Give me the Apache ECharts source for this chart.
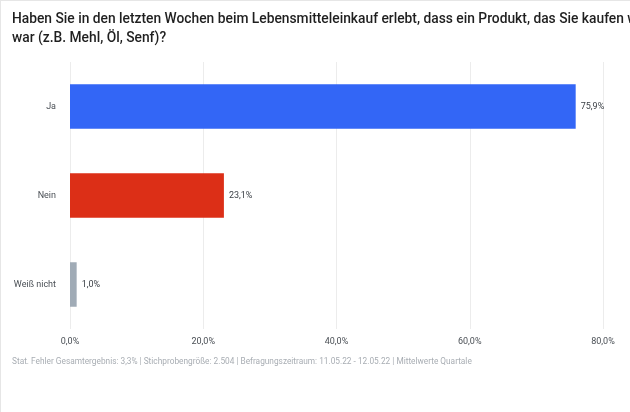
<!DOCTYPE html>
<html><head><meta charset="utf-8">
<script src="https://cdn.jsdelivr.net/npm/echarts@6/dist/echarts.min.js"></script>
<style>html,body{margin:0;padding:0;background:#fff}#c{width:630px;height:412px;border-left:1px solid #e6e6e6;border-top:1px solid #e6e6e6;box-sizing:border-box}</style>
</head><body><div id="c"></div>
<script>
const categories = ['Ja', 'Nein', 'Weiß nicht'];
const values = [75.9, 23.1, 1.0];
const colors = ['#3366f6', '#dc2f17', '#a0abb6'];
const xTicks = [0, 20, 40, 60, 80];
const titleText = 'Haben Sie in den letzten Wochen beim Lebensmitteleinkauf erlebt, dass ein Produkt, das Sie kaufen wollten, nicht verfügbar\nwar (z.B. Mehl, Öl, Senf)?';
const footText = 'Stat. Fehler Gesamtergebnis: 3,3% | Stichprobengröße: 2.504 | Befragungszeitraum: 11.05.22 - 12.05.22 | Mittelwerte Quartale';
const fmt = v => v.toFixed(1).replace('.', ',') + '%';

const chart = echarts.init(document.getElementById('c'), null, {renderer: 'canvas'});
chart.setOption({
  animation: false,
  textStyle: {fontFamily: 'Roboto'},
  graphic: [
    {type: 'text', left: 11, top: 9, style: {text: titleText, font: '500 13.8px Roboto', fill: '#1f1f1f', lineHeight: 19}},
    {type: 'text', left: 11, top: 357, style: {text: footText, font: '8.3px Roboto', fill: '#a8adb3'}}
  ],
  grid: {left: 69, right: 27, top: 61, bottom: 83, containLabel: false},
  xAxis: {
    type: 'value', min: 0, max: 80, interval: 20,
    axisLine: {show: false}, axisTick: {show: false},
    splitLine: {show: true, lineStyle: {color: '#ececec', width: 1}},
    axisLabel: {formatter: v => fmt(v), color: '#4a4f55', fontSize: 9, margin: 8}
  },
  yAxis: {
    type: 'category', data: categories, inverse: true,
    axisLine: {show: false}, axisTick: {show: false},
    axisLabel: {color: '#4a4f55', fontSize: 9, margin: 14}
  },
  series: [{
    type: 'bar', barWidth: '50%',
    data: values.map((v, i) => ({value: v, itemStyle: {color: colors[i]}})),
    label: {show: true, position: 'right', distance: 5, formatter: p => fmt(p.value), color: '#3a3f45', fontSize: 9}
  }]
});
</script></body></html>
